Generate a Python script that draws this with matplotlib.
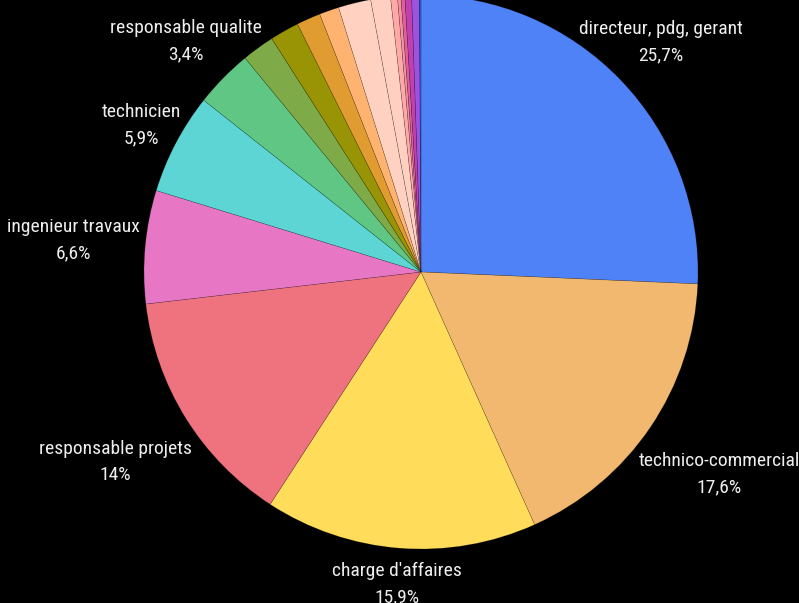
import numpy as np
import matplotlib.pyplot as plt
from matplotlib import font_manager

# slice data (clockwise from 12 o'clock)
labels = ['directeur, pdg, gerant', 'technico-commercial', "charge d'affaires",
          'responsable projets', 'ingenieur travaux', 'technicien',
          'responsable qualite', '', '', '', '', '', '', '', '', '', '', '', '']
values = [25.7, 17.6, 15.9, 14.0, 6.6, 5.9, 3.4,
          1.9, 1.7, 1.4, 1.15, 1.9, 1.15, 0.4, 0.2, 0.23, 0.39, 0.45, 0.09]
colors = ['#4e82f6', '#f2b870', '#ffdd5b', '#ef737f', '#e777c4', '#5cd5d4',
          '#5fc783', '#7eab48', '#999306', '#e09c30', '#feb470', '#ffd1c0',
          '#ffcfc2', '#ffa8a8', '#f590a0', '#e0609a', '#c040b0', '#9d52e0',
          '#2a5fd8']
# distance of each label from centre, in pie radii
label_dist = [1.2, 1.3, 1.13, 1.3, 1.26, 1.14, 1.19]

# look for a narrow font, the reference uses a condensed face
narrow = None
for f in font_manager.fontManager.ttflist:
    n = f.fname.lower()
    if 'condensed' in n or 'narrow' in n:
        if f.style == 'normal':
            narrow = f.fname
            if 'robotocondensed' in n:
                break
if narrow:
    fp = font_manager.FontProperties(fname=narrow, size=14)
else:
    fp = font_manager.FontProperties(family='DejaVu Sans', stretch='condensed', size=12)

W, H = 799, 603
cx, cy, R = 421, H - 272, 277

fig = plt.figure(figsize=(W / 100, H / 100), dpi=100, facecolor='black')
ax = fig.add_axes([0, 0, 1, 1])
ax.set_facecolor('black')

ax.pie(values, colors=colors, startangle=90, counterclock=False,
       center=(cx, cy), radius=R, frame=True,
       wedgeprops=dict(edgecolor=(0, 0, 0, 0.25), linewidth=0.4))

total = sum(values)
cum = 0
for i, (lab, v) in enumerate(zip(labels, values)):
    mid = (cum + v / 2) / total * 360
    cum += v
    if not lab:
        continue
    d = label_dist[i] * R
    theta = np.radians(90 - mid)
    x = cx + d * np.cos(theta)
    y = cy + d * np.sin(theta)
    pct = ('%.1f' % v).rstrip('0').rstrip('.').replace('.', ',') + '%'
    ax.text(x, y, lab + '\n' + pct, ha='center', va='center', color='#eeeeee',
            fontproperties=fp, linespacing=1.55)

ax.set_xlim(0, W)
ax.set_ylim(0, H)
ax.set_aspect('auto')
ax.axis('off')

fig.savefig('out.png', dpi=100, facecolor='black')
